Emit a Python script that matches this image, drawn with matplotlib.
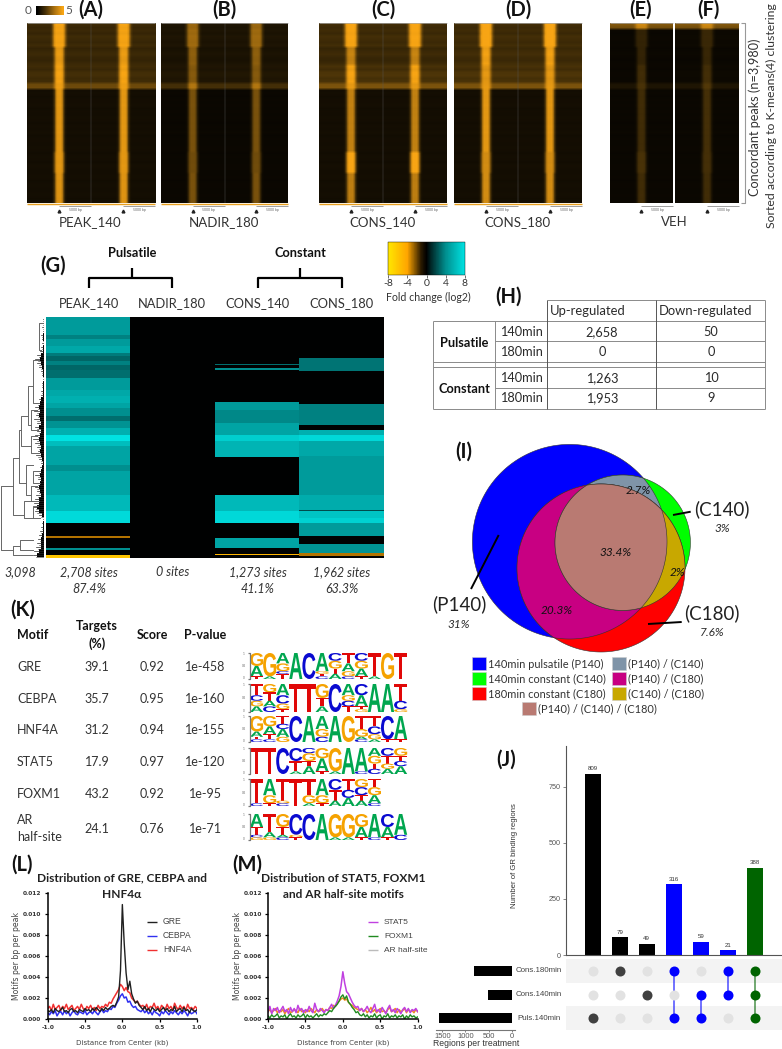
import re

import matplotlib
matplotlib.use("Agg")
import matplotlib.pyplot as plt
import numpy as np
from matplotlib.colors import LinearSegmentedColormap
from matplotlib.cm import ScalarMappable
from matplotlib.colors import Normalize
from matplotlib.font_manager import FontProperties
from matplotlib.patches import PathPatch, Polygon, Rectangle
from matplotlib.textpath import TextPath
from matplotlib.transforms import Affine2D

plt.rcParams['font.family'] = ['Lato', 'DejaVu Sans']
plt.rcParams['axes.unicode_minus'] = False

W, H = 782, 1049

# --- A-F read density: row segments (3 px rows), per panel level per segment
row_segments = [2, 6, 6, 6, 2, 21, 7, 10]
segment_profile = [0, 0, 1, 1, 1, 2, 1, 2]
profile_wide = [0] * 15 + [.1, .4, .85, 1, 1, 1, 1, 1, .85, .4, .1] + [0] * 15
profile_mid = [0] * 16 + [.1, .45, .9, 1, 1, 1, .9, .45, .1] + [0] * 16
profile_narrow = [0] * 16 + [.05, .3, .8, 1, 1, 1, .8, .3, .05] + [0] * 16
streak = [.07, -.04, .03, -.07, .09, .02, -.05, .07, -.09, .03, .1, -.03, -.07, .05, .02, -.1, .07, .09, -.03, .03,
          0, .03, -.03, .07, -.07, .03, 0, .09, -.05, .03, -.03, .07, 0, -.07, .05, -.03, .1, -.07, .03, 0,
          -.03, .07, .03, -.07, .05, 0, -.05, .09, .03, -.03, 0, .07, -.07, .03, .05, -.03, 0, .07, -.05, .03]

bg_a = [.26, .26, .25, .28, .45, .09, .09, .09]
peak_a = [.72, .72, .68, .70, .50, .82, .82, .80]
bg_b = [.13, .13, .12, .14, .30, .05, .05, .05]
peak_b = [.48, .50, .45, .40, .40, .45, .42, .45]
bg_c = [.28, .28, .26, .32, .50, .09, .09, .09]
peak_c = [.75, .72, .52, .66, .42, .68, .92, .66]
bg_d = [.28, .28, .28, .32, .50, .09, .09, .09]
peak_d = [.75, .75, .68, .58, .42, .82, .75, .75]
bg_e = [.50, .05, .05, .05, .13, .05, .05, .05]
peak_e = [.30, .18, .18, .24, .20, .24, .28, .24]
bg_f = [.50, .06, .05, .06, .14, .05, .05, .05]
peak_f = [.30, .20, .20, .24, .22, .26, .26, .24]

# --- G heatmap: run lengths (1/3 row) and log2 fold change
g_peak_len = [53, 13, 22, 20, 10, 15, 10, 15, 25, 35, 20, 20, 15, 25, 15, 20, 20, 20, 15, 55, 20, 70, 50, 35, 40, 4, 32, 4, 15, 10]
g_peak_val = [4.6, 3.6, 4.6, 5.2, 3.4, 2.8, 3.6, 2.8, 3.0, 4.6, 5.2, 5.6, 5.0, 4.0, 3.0, 4.2, 5.6, 8.0, 6.2, 5.0, 4.0, 5.0, 6.0, 7.6, 0, -3, 0, 4, 0, -6]
g_nadir_len = [723]
g_nadir_val = [0]
g_c140_len = [140, 4, 8, 8, 94, 24, 40, 35, 20, 48, 112, 50, 35, 44, 32, 16, 4, 9]
g_c140_val = [0, 3, 0, 4, 0, 4.5, 3.8, 5.0, 7.0, 5.8, 0, 6.0, 7.5, 0, 5.0, 0, -5, 0]
g_c180_len = [123, 40, 97, 65, 13, 15, 20, 45, 115, 45, 4, 21, 15, 40, 22, 28, 8, 7]
g_c180_val = [0, 3.2, 0, 3.6, 0, 5.5, 7.5, 5.2, 4.6, 5.4, 2, 6.5, 7.2, 4.6, 0, 4.2, -3, 0]

leaf_core = [0, 0, 1, 1, 2, 2, 1, 2, 3, 8, 12, 10, 6, 3, 2, 1, 2, 2, 4, 4,
             8, 12, 14, 12, 14, 12, 10, 14, 10, 12, 14, 12, 10, 12, 8, 6, 3, 5, 8, 12,
             10, 12, 14, 12, 10, 14, 16, 20, 14, 6, 1, 2, 3, 4, 6, 8, 8, 10, 16, 20]
leaf_hair = [3, 4, 6, 4, 8, 6, 5, 10, 12, 20, 26, 22, 14, 8, 6, 4, 7, 5, 10, 9,
             16, 24, 26, 30, 24, 30, 22, 28, 20, 26, 32, 26, 22, 18, 24, 14, 10, 12, 22, 26,
             18, 24, 28, 22, 24, 28, 30, 34, 28, 14, 4, 6, 8, 12, 14, 18, 20, 24, 30, 34]
dendro_brackets = [(2, 890, 1082, 40, 40), (40, 805, 975, 58, 72), (58, 720, 880, 62, 78), (62, 680, 770, 85, 92),
                   (78, 825, 915, 98, 92), (72, 935, 985, 95, 100), (40, 1070, 1095, 60, 96), (60, 1050, 1082, 98, 100),
                   (85, 590, 705, 100, 92), (100, 510, 640, 118, 110), (118, 400, 480, 128, 122), (92, 660, 720, 112, 115),
                   (92, 740, 790, 110, 116), (98, 845, 880, 118, 120), (92, 890, 935, 112, 118), (100, 950, 985, 115, 120)]

# --- H table
h_rows = ["140min", "180min", "140min", "180min"]
h_up = ["2,658", "0", "1,263", "1,953"]
h_down = ["50", "0", "10", "9"]

# --- K table and motif logos (top to bottom, tenths of the stack)
k_motifs = ["GRE", "CEBPA", "HNF4A", "STAT5", "FOXM1"]
k_targets = ["39.1", "35.7", "31.2", "17.9", "43.2", "24.1"]
k_score = ["0.92", "0.95", "0.94", "0.97", "0.92", "0.76"]
k_pvalue = ["1e-458", "1e-160", "1e-155", "1e-120", "1e-95", "1e-71"]
logo_gre = ["G5A4T1", "G9A1", "A4G3C1T2", "A10", "C10", "A7G1T1C1", "C3G3T2A2", "T4A3G2C1", "C3G3A3T1", "T9A1", "G10", "T10"]
logo_cebpa = ["T4C2G2A2", "G3T3A2C2", "A4C3G2T1", "T10", "T10", "G5T3A2", "C10", "A4G2C2T2", "C4A4T1G1", "A10", "A10", "T6C3G1"]
logo_hnf4a = ["G6A2T1C1", "G4A3T2C1", "T3C2A3G2", "C10", "A10", "A5G3C2", "A10", "G10", "T5G3A1C1", "T4C3G2A1", "C9T1", "A9T1"]
logo_stat5 = ["T10", "T10", "C10", "C5T4A1", "C2G3T2A3", "G4A5T1", "G9A1", "A10", "A9C1", "A3G3T2C2", "C3T3G2A2", "G3T2C2A3"]
logo_foxm1 = ["T9C1", "A6G3T1", "T8G1C1", "T10", "T6G3A1", "A6G3T1", "C4T4A2", "T4C3A3", "G3C3T2A2", "T3G3A3C1"]
logo_ar = ["A5T3C1G1", "T7A2G1", "G5T3A1C1", "C8G1T1", "C10", "A10", "G9A1", "G9A1", "G5A4T1", "A9C1", "C5A4T1", "A8C2"]
logo_colors = {"A": "#00a64f", "C": "#0a0ad0", "G": "#f5a200", "T": "#e00808"}

# --- L / M distribution, motifs per bp per peak (x 1e-4)
gre = [8, 7, 9, 6, 10, 8, 7, 9, 11, 7, 8, 6, 9, 10, 7, 8, 6, 9, 8, 7, 10, 8, 9, 7, 10, 8, 11, 9, 7, 10,
       8, 11, 9, 10, 12, 13, 12, 16, 21, 46, 109, 72, 44, 28, 36, 24, 19, 15, 17, 13, 11, 9, 12, 8, 10, 7, 11, 9, 8, 10,
       7, 9, 11, 8, 10, 7, 9, 8, 12, 7, 9, 10, 7, 11, 8, 9, 6, 10, 8, 7, 9]
cebpa = [6, 4, 7, 5, 8, 3, 6, 7, 4, 8, 5, 7, 3, 6, 8, 5, 4, 7, 6, 5, 8, 4, 6, 7, 5, 8, 6, 4, 7, 9,
         6, 8, 7, 10, 9, 12, 11, 15, 18, 22, 24, 20, 21, 16, 17, 13, 11, 12, 9, 8, 7, 9, 6, 8, 5, 7, 4, 8, 6, 5,
         3, 7, 5, 8, 6, 4, 7, 5, 8, 6, 4, 7, 5, 8, 6, 3, 7, 5, 6, 8, 5]
hnf4a = [10, 12, 8, 14, 9, 11, 13, 8, 12, 10, 14, 9, 11, 13, 8, 10, 12, 9, 14, 10, 8, 12, 10, 13, 9, 11, 8, 13, 10, 12,
         11, 14, 12, 16, 15, 19, 22, 25, 28, 33, 31, 27, 30, 26, 25, 20, 18, 16, 17, 14, 12, 13, 10, 14, 9, 12, 11, 15, 10, 12,
         8, 13, 11, 9, 14, 10, 12, 8, 15, 11, 9, 13, 10, 12, 8, 14, 10, 11, 9, 12, 10]
stat5 = [7, 12, 5, 10, 8, 11, 6, 9, 12, 7, 9, 5, 11, 7, 10, 6, 13, 8, 10, 6, 9, 7, 12, 8, 6, 15, 9, 7, 10, 8,
         6, 9, 8, 11, 14, 10, 13, 17, 22, 31, 45, 34, 26, 24, 20, 16, 13, 11, 12, 8, 10, 7, 9, 12, 8, 6, 10, 14, 7, 9,
         6, 11, 8, 5, 10, 13, 7, 9, 6, 10, 8, 5, 9, 11, 7, 10, 6, 9, 8, 10, 7]
foxm1 = [3, 1, 4, 2, 3, 5, 1, 3, 2, 4, 0, 3, 5, 2, 3, 1, 4, 2, 3, 5, 1, 4, 2, 3, 1, 3, 5, 2, 4, 3,
         5, 4, 6, 8, 7, 10, 12, 14, 17, 21, 23, 19, 22, 16, 14, 11, 9, 6, 7, 4, 3, 5, 2, 4, 1, 3, 2, 5, 1, 3,
         4, 0, 3, 2, 5, 1, 3, 2, 4, 1, 3, 2, 4, 0, 3, 1, 4, 2, 3, 1, 2]
ar_half = [7, 9, 6, 8, 10, 6, 8, 7, 9, 5, 8, 10, 6, 7, 9, 8, 6, 10, 7, 8, 6, 9, 7, 10, 8, 6, 9, 7, 8, 10,
           7, 9, 8, 11, 10, 13, 12, 15, 17, 19, 20, 18, 19, 16, 14, 13, 11, 10, 9, 8, 10, 7, 9, 6, 8, 11, 7, 9, 6, 8,
           10, 7, 8, 6, 9, 11, 7, 8, 10, 6, 9, 7, 8, 10, 6, 9, 7, 8, 6, 9, 7]

# --- J upset
j_counts = [809, 79, 49, 316, 59, 21, 388]
j_colors = ["black", "black", "black", "blue", "blue", "blue", "#006400"]
j_dot_dark = ["#404040", "#404040", "#404040", "blue", "blue", "blue", "#006400"]
j_sets = ["Cons.180min", "Cons.140min", "Puls.140min"]
j_totals = [804, 517, 1572]
j_member = [[0, 1, 0, 1, 0, 1, 1],
            [0, 0, 1, 0, 1, 1, 1],
            [1, 0, 0, 1, 1, 0, 1]]

fig = plt.figure(figsize=(W / 100, H / 100), dpi=100, facecolor="white")


def box(x0, y0, x1, y1, **kw):
    return fig.add_axes([x0 / W, 1 - y1 / H, (x1 - x0) / W, (y1 - y0) / H], **kw)


ov = fig.add_axes([0, 0, 1, 1], zorder=10)
ov.set_xlim(0, W)
ov.set_ylim(H, 0)
ov.axis("off")


def label(x, y, s, size=9, color="#2a2a2a", ha="center", **kw):
    ov.text(x, y, s, fontsize=size, color=color, ha=ha, va="center", **kw)


def line(xs, ys, color="black", lw=1.0, **kw):
    ov.plot(xs, ys, color=color, lw=lw, solid_capstyle="butt", **kw)


# heat panels A-F
heat_cmap = LinearSegmentedColormap.from_list("heat", ["#000000", "#4a3308", "#a87010", "#f8a514"])
profiles = [profile_wide, profile_mid, profile_narrow]


def heat_panel(x0, x1, bg, peak, halves):
    rows_bg = np.repeat(bg, row_segments)
    rows_peak = np.repeat(peak, row_segments)
    rows_prof = np.repeat(segment_profile, row_segments)
    half = np.array([rows_bg[i] * (1 + streak[i]) + rows_peak[i] * np.array(profiles[rows_prof[i]])
                     for i in range(len(rows_bg))])
    img = np.hstack([half] * halves)
    ax = box(x0, 23, x1, 203)
    ax.imshow(img, cmap=heat_cmap, vmin=0, vmax=1, aspect="auto", interpolation="bilinear")
    ax.axis("off")


heat_panel(27, 155, bg_a, peak_a, 2)
heat_panel(161, 288, bg_b, peak_b, 2)
heat_panel(319, 447, bg_c, peak_c, 2)
heat_panel(454, 582, bg_d, peak_d, 2)
heat_panel(610, 673, bg_e, peak_e, 1)
heat_panel(675, 739, bg_f, peak_f, 1)

for x0, x1 in [(27, 155), (161, 288), (319, 447), (454, 582)]:
    mid = (x0 + x1) / 2
    line([mid, mid], [23, 203], color="#5a5a5a", lw=0.3)
    line([x0, x1], [203.5, 203.5], color="#e8a020", lw=1.0)
    for s, e in [(x0 + 32, mid), (x1 - 32, x1)]:
        line([s, e], [205.5, 205.5], color="#777777", lw=0.5)
        ov.plot([s], [211], marker="^", ms=2, color="#222222")
        label((s + e) / 2, 210.5, "5000 bp", size=2.5, color="#666666")
for x0, x1 in [(641, 673), (707, 739)]:
    line([x0, x1], [205.5, 205.5], color="#777777", lw=0.5)
    ov.plot([x0], [211], marker="^", ms=2, color="#222222")
    label((x0 + x1) / 2, 210.5, "5000 bp", size=2.5, color="#666666")
for x0, x1 in [(27, 155), (161, 288), (319, 447), (454, 582), (610, 673), (675, 739)]:
    line([x0, x1], [23, 23], color="#aaaaaa", lw=0.5)

cb0 = box(36, 6, 64, 15)
cb0.imshow([np.arange(0, 1.01, 0.1)], cmap=heat_cmap, aspect="auto", interpolation="bilinear")
cb0.axis("off")
label(28, 11, "0", size=8.5, color="#555555")
label(69, 11, "5", size=8.5, color="#555555")

for x, s in [(91, "(A)"), (224, "(B)"), (383, "(C)"), (518, "(D)"), (641, "(E)"), (708, "(F)")]:
    label(x, 10, s, size=14.5, color="#111111", fontweight="bold")
for x, s in [(90, "PEAK_140"), (224, "NADIR_180"), (382, "CONS_140"), (517, "CONS_180"), (674, "VEH")]:
    label(x, 222, s, size=9.5, color="#333333")

line([741, 745, 745, 741], [23, 23, 203, 203], color="#999999", lw=0.8)
label(755, 117, "Concordant peaks (n=3,980)", size=9.1, color="#333333", rotation=90)
label(771, 116, "Sorted according to K-means(4) clustering", size=8.8, color="#333333", rotation=90)

# panel G
fold_cmap = LinearSegmentedColormap.from_list(
    "fold", [(0, "#ffe600"), (.25, "#ffa500"), (.43, "#2a1a00"), (.5, "#000000"),
             (.56, "#002828"), (.75, "#008f8f"), (1, "#00e2e2")])
g_img = np.column_stack([np.repeat(g_peak_val, g_peak_len), np.repeat(g_nadir_val, g_nadir_len),
                         np.repeat(g_c140_val, g_c140_len), np.repeat(g_c180_val, g_c180_len)])
ax_g = box(46, 317, 384, 558)
ax_g.imshow(g_img, cmap=fold_cmap, vmin=-8, vmax=8, aspect="auto", interpolation="nearest")
ax_g.axis("off")

cax = box(388, 242, 465, 275)
cb = fig.colorbar(ScalarMappable(Normalize(-8, 8), fold_cmap), cax=cax, orientation="horizontal")
cb.set_ticks([-8, -4, 0, 4, 8])
cb.ax.tick_params(labelsize=7.5, length=2, width=0.5, pad=1, colors="#333333")
cb.outline.set_linewidth(0.3)
label(428, 297, "Fold change (log2)", size=7.6, color="#333333")

ax_den = box(0, 317, 44, 558)
ax_den.set_xlim(0, 132)
ax_den.set_ylim(1105, 382)
ax_den.axis("off")
leaf_y = np.arange(388, 1105, 12)
ax_den.barh(leaf_y, -np.array(leaf_core), left=132, height=12, color="black", lw=0)
for y, d in zip(leaf_y, leaf_hair):
    ax_den.plot([132 - d, 132], [y, y], color="#222222", lw=0.5)
    ax_den.plot([132 - d * 0.7, 132], [y + 5, y + 5], color="#333333", lw=0.4)
ax_den.plot([132, 132], [382, 1105], color="#555555", lw=0.5)
for xb, ya, yb, xa, xc in dendro_brackets:
    ax_den.plot([xa, xb, xb, xc], [ya, ya, yb, yb], color="#666666", lw=0.7)

label(53, 266, "(G)", size=14.5, color="#111111", fontweight="bold")
label(132, 253, "Pulsatile", size=9.2, color="#111111", fontweight="bold")
label(300, 253, "Constant", size=9.2, color="#111111", fontweight="bold")
for xa, xb, xm in [(89, 172, 132), (258, 342, 300)]:
    line([xa, xa, xb, xb], [288, 278, 278, 288], lw=1.6)
    line([xm, xm], [268, 278], lw=1.6)
for x, s in [(89, "PEAK_140"), (172, "NADIR_180"), (258, "CONS_140"), (342, "CONS_180")]:
    label(x, 303, s, size=9.3, color="#333333")
for x, s in [(20, "3,098"), (89, "2,708 sites"), (173, "0 sites"), (258, "1,273 sites"), (342, "1,962 sites")]:
    label(x, 572, s, size=9, color="#333333", style="italic")
for x, s in [(89, "87.4%"), (258, "41.1%"), (342, "63.3%")]:
    label(x, 589, s, size=9, color="#333333", style="italic")

# panel H
label(509, 297, "(H)", size=14.5, color="#111111", fontweight="bold")
for y, xa in [(300, 547), (321, 433), (341, 495), (362, 433), (367, 433), (388, 495), (409, 433)]:
    line([xa, 765], [y, y], color="#8a8a8a", lw=0.7)
for x, ya in [(433, 321), (495, 321), (547, 300), (656, 300), (765, 300)]:
    line([x, x], [ya, 409], color="#555555" if x in (547, 656) else "#8a8a8a", lw=0.7)
label(550, 311, "Up-regulated", size=9.4, ha="left")
label(659, 311, "Down-regulated", size=9.4, ha="left")
label(464, 343, "Pulsatile", size=9.2, fontweight="bold", color="#111111")
label(464, 389, "Constant", size=9.2, fontweight="bold", color="#111111")
for y, a, b, c in zip([332, 352, 378, 398], h_rows, h_up, h_down):
    label(521, y, a, size=9.2)
    label(602, y, b, size=9.2)
    label(711, y, c, size=9.2)

# panel I venn
p140 = (569.7, 541.7, 97.3)
c140 = (622.7, 542.7, 67.7)
c180 = (601.0, 568.0, 84.0)


def overlap(*circles):
    # intersection of circles is convex, keep boundary points inside all of them
    pts = []
    for i, (cx, cy, r) in enumerate(circles):
        for t in np.arange(0, 2 * np.pi, np.pi / 360):
            px, py = cx + r * np.cos(t), cy + r * np.sin(t)
            if all((px - ox) ** 2 + (py - oy) ** 2 <= or_ ** 2 + 1e-6
                   for j, (ox, oy, or_) in enumerate(circles) if j != i):
                pts.append((px, py))
    pts = np.array(pts)
    c = pts.mean(axis=0)
    return pts[np.argsort(np.arctan2(pts[:, 1] - c[1], pts[:, 0] - c[0]))]


for circles, col in [((p140,), "#0000ff"), ((c140,), "#00ff00"), ((c180,), "#ff0000"),
                     ((p140, c140), "#7f94a8"), ((p140, c180), "#c80082"),
                     ((c140, c180), "#c8a800"), ((p140, c140, c180), "#b97a72")]:
    ov.add_patch(Polygon(overlap(*circles), closed=True, facecolor=col, edgecolor="#333333", lw=0.4))

label(464, 452, "(I)", size=14.5, color="#111111", fontweight="bold")
label(459, 604, "(P140)", size=13.5, color="#222222")
label(459, 625, "31%", size=8.5, style="italic")
label(722, 509, "(C140)", size=13.5, color="#222222")
label(722, 529, "3%", size=8.5, style="italic")
label(712, 613, "(C180)", size=13.5, color="#222222")
label(712, 633, "7.6%", size=8.5, style="italic")
label(638, 490, "2.7%", size=8.5, style="italic", color="#111111")
label(616, 553, "33.4%", size=8.5, style="italic", color="#111111")
label(677, 572, "2%", size=8.5, style="italic", color="#111111")
label(557, 610, "20.3%", size=8.5, style="italic", color="#111111")
line([498.7, 471], [535, 589], lw=1.4)
line([673, 690.7], [515, 511.7], lw=1.4)
line([648, 681.7], [624, 622], lw=1.4)

for x, y, col, s in [(472, 657, "#0000ff", "140min pulsatile (P140)"), (472, 672, "#00ff00", "140min constant (C140)"),
                     (472, 687, "#ff0000", "180min constant (C180)"), (612, 657, "#7f94a8", "(P140) / (C140)"),
                     (612, 672, "#c80082", "(P140) / (C180)"), (612, 687, "#c8a800", "(C140) / (C180)"),
                     (522, 702, "#b97a72", "(P140) / (C140) / (C180)")]:
    ov.add_patch(Rectangle((x, y), 14, 13, facecolor=col, edgecolor="#cccccc", lw=0.4))
    label(x + 16, y + 7, s, size=7.9, ha="left", color="#333333")

# panel K
label(23, 610, "(K)", size=14.5, color="#111111", fontweight="bold")
label(17, 635, "Motif", size=9, ha="left", fontweight="bold", color="#111111")
label(97, 626, "Targets", size=9, fontweight="bold", color="#111111")
label(97, 644, "(%)", size=9, fontweight="bold", color="#111111")
label(152, 635, "Score", size=9, fontweight="bold", color="#111111")
label(205, 635, "P-value", size=9, fontweight="bold", color="#111111")
k_y = [667, 699, 730, 762, 794, 829]
for i, y in enumerate(k_y):
    if i < len(k_motifs):
        label(17, y, k_motifs[i], size=9, ha="left", color="#333333")
    label(97, y, k_targets[i], size=9, color="#333333")
    label(152, y, k_score[i], size=9, color="#333333")
    label(205, y, k_pvalue[i], size=9, color="#333333")
label(17, 820, "AR", size=9, ha="left", color="#333333")
label(17, 837, "half-site", size=9, ha="left", color="#333333")

logo_font = FontProperties(family="Liberation Sans", weight="bold")


def draw_logo(stacks, y_top, y_bottom, x0=250, cell=13.1):
    full = y_bottom - y_top
    for i, stack in enumerate(stacks):
        y = y_top
        for letter, tenths in re.findall(r"([ACGT])(\d+)", stack):
            tp = TextPath((0, 0), letter, size=1, prop=logo_font)
            bb = tp.get_extents()
            h = full * int(tenths) / 10
            tr = (Affine2D().translate(-bb.x0, -bb.y0).scale(cell / bb.width, -h / bb.height)
                  .translate(x0 + i * cell, y + h) + ov.transData)
            ov.add_patch(PathPatch(tp, transform=tr, facecolor=logo_colors[letter], edgecolor="none"))
            y += h


for stacks, yt, yb in [(logo_gre, 653, 679), (logo_cebpa, 684, 712), (logo_hnf4a, 716, 742),
                       (logo_stat5, 748, 774), (logo_foxm1, 779, 806), (logo_ar, 814, 840)]:
    draw_logo(stacks, yt, yb)
    line([247.5, 249.5, 249.5, 247.5], [yt, yt, yb, yb], color="#777777", lw=0.9)
    label(244, yt + 1, "1", size=2.2, color="#666666")
    label(244, (yt + yb) / 2, "0.5", size=2.2, color="#666666")
    label(244, yb - 1, "0", size=2.2, color="#666666")


# panels L, M
def dist_axes(x0, x1, series):
    ax = box(x0, 893, x1, 1019)
    for vals, col, lw in series:
        ax.plot(np.linspace(-1, 1, len(vals)), np.array(vals) * 1e-4, color=col, lw=lw)
    ax.set_xlim(-1, 1)
    ax.set_ylim(0, 0.012)
    ax.set_xticks([-1, -0.5, 0, 0.5, 1])
    ax.set_xticklabels(["-1.0", "-0.5", "0.0", "0.5", "1.0"])
    ax.set_yticks(np.arange(0, 0.0121, 0.002))
    ax.set_yticklabels(["0.000", "0.002", "0.004", "0.006", "0.008", "0.010", "0.012"])
    ax.tick_params(labelsize=4.2, length=2.5, width=0.9, pad=2, labelcolor="#333333")
    for t in ax.get_xticklabels() + ax.get_yticklabels():
        t.set_family("DejaVu Sans")
        t.set_fontweight("bold")
    ax.spines["top"].set_visible(False)
    ax.spines["right"].set_visible(False)
    ax.spines["left"].set_linewidth(1.1)
    ax.spines["bottom"].set_linewidth(1.1)
    ax.patch.set_alpha(0)
    return ax


dist_axes(47.7, 197, [(hnf4a, "#f03030", 1.1), (cebpa, "#3030f0", 1.1), (gre, "#202020", 1.0)])
dist_axes(268, 417.7, [(ar_half, "#f08a20", 1.1), (stat5, "#c040e0", 1.1), (foxm1, "#208a20", 1.0)])

label(22, 865, "(L)", size=14.5, color="#111111", fontweight="bold")
label(247, 865, "(M)", size=14.5, color="#111111", fontweight="bold")
label(122, 878, "Distribution of GRE, CEBPA and", size=8.6, fontweight="bold", color="#222222")
label(122, 894, "HNF4α", size=8.6, fontweight="bold", color="#222222")
label(343, 878, "Distribution of STAT5, FOXM1", size=8.6, fontweight="bold", color="#222222")
label(343, 894, "and AR half-site motifs", size=8.6, fontweight="bold", color="#222222")
for x, xl in [(17, 122), (238, 343)]:
    label(x, 956, "Motifs per bp per peak", size=5.6, rotation=90, family="DejaVu Sans", color="#444444")
    label(xl, 1043, "Distance from Center (kb)", size=5.1, family="DejaVu Sans", color="#444444")
for y, col, s in [(922, "#202020", "GRE"), (936, "#3030f0", "CEBPA"), (950, "#f03030", "HNF4A")]:
    line([147, 157], [y, y], color=col, lw=1)
    label(163, y, s, size=6.2, ha="left", family="Liberation Sans", color="#444444")
for y, col, s in [(922, "#c040e0", "STAT5"), (936, "#208a20", "FOXM1"), (950, "#bbbbbb", "AR half-site")]:
    line([368, 378], [y, y], color=col, lw=1)
    label(384, y, s, size=6.0, ha="left", family="Liberation Sans", color="#444444")

# panel J
ax_j = box(565.7, 746, 782, 955)
ax_j.bar(range(7), j_counts, width=0.6, color=j_colors)
ax_j.set_xlim(-1, 7.01)
ax_j.set_ylim(0, 933)
ax_j.set_xticks([])
ax_j.set_yticks([0, 250, 500, 750])
ax_j.tick_params(labelsize=5.2, length=2, width=0.5, labelcolor="#555555", color="#555555", pad=1.5)
for t in ax_j.get_yticklabels():
    t.set_family("Liberation Sans")
ax_j.spines["top"].set_visible(False)
ax_j.spines["right"].set_visible(False)
ax_j.spines["left"].set_color("#555555")
ax_j.spines["bottom"].set_color("#555555")
for i, v in enumerate(j_counts):
    ax_j.text(i, v + 12, str(v), ha="center", va="bottom", fontsize=4.4, color="#333333", family="Liberation Sans")

ax_m = box(565.7, 959.3, 782, 1030)
ax_m.set_xlim(-1, 7.01)
ax_m.set_ylim(2.5, -0.5)
ax_m.axis("off")
ax_m.axhspan(-0.5, 0.5, color="#f3f3f3", lw=0)
ax_m.axhspan(1.5, 2.5, color="#f3f3f3", lw=0)
for c in range(7):
    on = [r for r in range(3) if j_member[r][c]]
    for r in range(3):
        ax_m.plot(c, r, "o", ms=7.2, mew=0, color=j_dot_dark[c] if j_member[r][c] else "#e2e2e2")
    if len(on) > 1:
        ax_m.plot([c, c], [min(on), max(on)], color=j_dot_dark[c], lw=1.1, alpha=0.7, zorder=1)

ax_t = box(436, 959.3, 515, 1030)
ax_t.barh(range(3), j_totals, height=0.43, color="black")
ax_t.set_xlim(1635, -71)
ax_t.set_ylim(2.5, -0.5)
ax_t.set_xticks([1500, 1000, 500, 0])
ax_t.set_yticks([])
ax_t.tick_params(labelsize=5.4, length=1.5, width=0.5, pad=1, labelcolor="#555555", color="#555555")
for t in ax_t.get_xticklabels():
    t.set_family("Liberation Sans")
ax_t.spines["top"].set_visible(False)
ax_t.spines["right"].set_visible(False)
ax_t.spines["left"].set_visible(False)
ax_t.spines["bottom"].set_color("#777777")

for y, s in zip([970.7, 994.7, 1018.3], j_sets):
    label(539, y, s, size=5.7, family="Liberation Sans", color="#444444")
label(476, 1044, "Regions per treatment", size=6.2, family="Liberation Sans", color="#333333")
label(514, 856, "Number of GR binding regions", size=5.6, rotation=90, family="Liberation Sans", color="#333333")
label(506, 760, "(J)", size=14.5, color="#111111", fontweight="bold")

fig.savefig("out.png", dpi=100)
